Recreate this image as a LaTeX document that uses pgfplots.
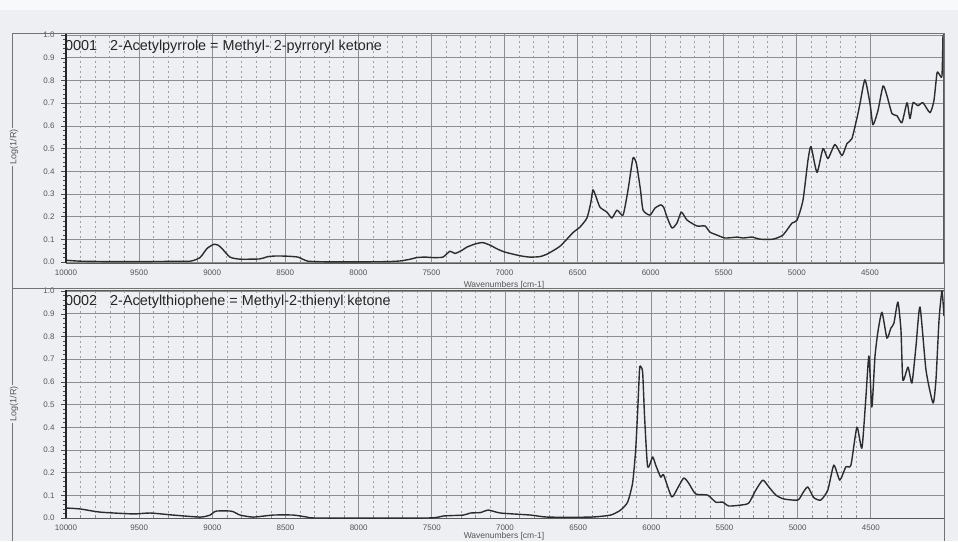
\documentclass[border=0pt]{standalone}
\usepackage{fontspec}
\setmainfont{Liberation Sans}
\usepackage{pgfplots}
\usepackage{pgfplotstable}
\pgfplotsset{compat=1.18}

\definecolor{paper}{HTML}{EEEFF2}
\definecolor{gridc}{HTML}{8E8E8E}
\definecolor{curve}{HTML}{2C2C2C}
\definecolor{lab}{HTML}{555555}

% 0001 2-Acetylpyrrole, wavenumber vs log(1/R)
\pgfplotstableread{
wn val
10000 0.008
9900 0.004
9700 0.002
9500 0.002
9300 0.003
9150 0.004
9083 0.02
9035 0.06
8990 0.078
8960 0.075
8933 0.06
8878 0.022
8810 0.013
8673 0.014
8620 0.024
8560 0.027
8488 0.026
8413 0.022
8344 0.004
8200 0.001
8000 0.001
7800 0.002
7715 0.005
7650 0.012
7599 0.02
7544 0.022
7489 0.02
7421 0.022
7373 0.048
7339 0.038
7291 0.052
7257 0.066
7200 0.08
7150 0.086
7100 0.075
7050 0.058
6997 0.044
6894 0.028
6826 0.022
6760 0.024
6709 0.035
6620 0.07
6531 0.13
6484 0.154
6436 0.194
6410 0.26
6395 0.318
6375 0.29
6347 0.242
6299 0.22
6265 0.194
6230 0.229
6189 0.207
6155 0.317
6121 0.458
6100 0.44
6093 0.418
6070 0.32
6052 0.229
6005 0.207
5970 0.238
5930 0.252
5910 0.24
5888 0.198
5854 0.15
5820 0.172
5790 0.22
5751 0.185
5683 0.159
5628 0.159
5594 0.132
5546 0.119
5491 0.106
5409 0.11
5368 0.106
5307 0.11
5252 0.101
5163 0.101
5095 0.119
5033 0.172
4999 0.184
4958 0.272
4924 0.447
4903 0.509
4862 0.395
4821 0.5
4787 0.456
4739 0.518
4691 0.469
4657 0.522
4623 0.544
4588 0.636
4568 0.697
4534 0.803
4499 0.697
4479 0.605
4445 0.667
4410 0.776
4383 0.732
4349 0.654
4315 0.645
4281 0.614
4246 0.702
4226 0.632
4205 0.702
4171 0.689
4137 0.702
4089 0.658
4062 0.711
4041 0.833
4027 0.829
4007 0.82
4000 1.0
}\pyrrole

% 0002 2-Acetylthiophene
\pgfplotstableread{
wn val
10000 0.044
9904 0.04
9767 0.026
9542 0.018
9425 0.022
9268 0.013
9083 0.004
9015 0.013
8985 0.028
8967 0.031
8880 0.031
8857 0.028
8810 0.013
8721 0.004
8584 0.013
8447 0.013
8351 0.004
8283 0.0
7530 0.0
7421 0.009
7284 0.013
7236 0.022
7168 0.024
7113 0.035
7031 0.022
6826 0.013
6709 0.004
6415 0.004
6278 0.013
6210 0.035
6162 0.07
6128 0.154
6107 0.3
6093 0.476
6080 0.66
6070 0.665
6059 0.64
6046 0.445
6025 0.225
5991 0.269
5970 0.233
5936 0.18
5916 0.19
5861 0.093
5820 0.132
5779 0.176
5745 0.154
5697 0.106
5615 0.101
5560 0.07
5512 0.07
5471 0.053
5389 0.057
5334 0.066
5286 0.123
5238 0.167
5197 0.137
5149 0.101
5095 0.084
4999 0.079
4965 0.11
4931 0.137
4890 0.09
4842 0.079
4794 0.123
4753 0.233
4712 0.167
4671 0.225
4636 0.233
4595 0.4
4561 0.308
4534 0.529
4513 0.714
4493 0.489
4472 0.709
4452 0.819
4424 0.907
4390 0.793
4363 0.837
4342 0.859
4315 0.952
4294 0.828
4281 0.608
4246 0.665
4219 0.595
4192 0.753
4164 0.93
4123 0.652
4075 0.507
4055 0.608
4034 0.872
4014 1.0
4000 0.89
}\thiophene

\pgfplotsset{
  spectrum/.style={
    scale only axis, width=877pt, anchor=south west,
    x dir=reverse, xmin=4000, xmax=10000,
    xtick={4500,5000,5500,6000,6500,7000,7500,8000,8500,9000,9500,10000},
    scaled x ticks=false,
    ytick={0,0.1,0.2,0.3,0.4,0.5,0.6,0.7,0.8,0.9,1.0},
    minor x tick num=4, minor y tick num=4,
    xmajorgrids=true, ymajorgrids=true, xminorgrids=true,
    major grid style={gridc, line width=0.7pt},
    minor x grid style={gridc!85, line width=0.7pt, dash pattern=on 2pt off 3pt},
    axis line style={black!65, line width=0.8pt},
    ytick pos=left, xtick pos=bottom,
    ytick align=outside, xtick align=inside,
    x tick style={gridc, line width=0.7pt},
    y tick style={black!70, line width=0.5pt},
    major tick length=5pt, minor tick length=3pt,
    /pgf/number format/assume math mode=true,
    /pgf/number format/1000 sep={},
    xticklabel style={font=\fontsize{8}{9}\selectfont, text=lab, yshift=-3pt},
    yticklabel style={font=\fontsize{8}{9}\selectfont, text=lab, xshift=-3pt,
      /pgf/number format/.cd, fixed, fixed zerofill, precision=1},
  },
  trace/.style={curve, line width=1.4pt, line join=round, no markers, smooth, tension=0.35},
}

\begin{document}
\begin{tikzpicture}
\fill[paper] (0pt,0pt) rectangle (958pt,-541pt);
\fill[white!60!paper] (0pt,0pt) rectangle (958pt,-10pt);
\useasboundingbox (0pt,0pt) rectangle (958pt,-541pt);

\begin{axis}[spectrum, at={(66pt,-263pt)}, height=230pt, ymin=-0.004, ymax=1.009]
  \addplot[trace] table[x=wn, y=val] {\pyrrole};
\end{axis}

\begin{axis}[spectrum, at={(66pt,-518pt)}, width=878pt, height=228pt, ymin=0, ymax=1.005]
  \addplot[trace] table[x=wn, y=val] {\thiophene};
\end{axis}

% thick left axis lines
\draw[black!85, line width=1.8pt] (66pt,-33pt) -- (66pt,-263pt);
\draw[black!85, line width=1.8pt] (66pt,-290pt) -- (66pt,-518pt);

% outer frame
\draw[black!55, line width=0.8pt] (12pt,-33pt) -- (944pt,-33pt);
\draw[black!55, line width=0.8pt] (12pt,-288pt) -- (944pt,-288pt);
\draw[black!55, line width=0.8pt] (12pt,-33pt) -- (12pt,-541pt);
\draw[black!55, line width=0.8pt] (944pt,-33pt) -- (944pt,-541pt);

% titles
\node[anchor=base west, inner sep=0pt, font=\fontsize{14.4}{16}\selectfont, text=black!85] at (65pt,-50pt) {0001};
\node[anchor=base west, inner sep=0pt, font=\fontsize{14.4}{16}\selectfont, text=black!85] at (110pt,-50pt) {2-Acetylpyrrole = Methyl- 2-pyrroryl ketone};
\node[anchor=base west, inner sep=0pt, font=\fontsize{14.4}{16}\selectfont, text=black!85] at (65pt,-305pt) {0002};
\node[anchor=base west, inner sep=0pt, font=\fontsize{14.4}{16}\selectfont, text=black!85] at (110pt,-305pt) {2-Acetylthiophene = Methyl-2-thienyl ketone};

% axis labels
\node[rotate=90, fill=paper, inner sep=1pt, font=\fontsize{9}{10}\selectfont, text=lab] at (14pt,-147pt) {Log(1/R)};
\node[rotate=90, fill=paper, inner sep=1pt, font=\fontsize{9}{10}\selectfont, text=lab] at (14pt,-404pt) {Log(1/R)};
\node[font=\fontsize{8.5}{10}\selectfont, text=lab] at (504pt,-285pt) {Wavenumbers [cm-1]};
\node[font=\fontsize{8.5}{10}\selectfont, text=lab] at (504pt,-536pt) {Wavenumbers [cm-1]};
\end{tikzpicture}
\end{document}
